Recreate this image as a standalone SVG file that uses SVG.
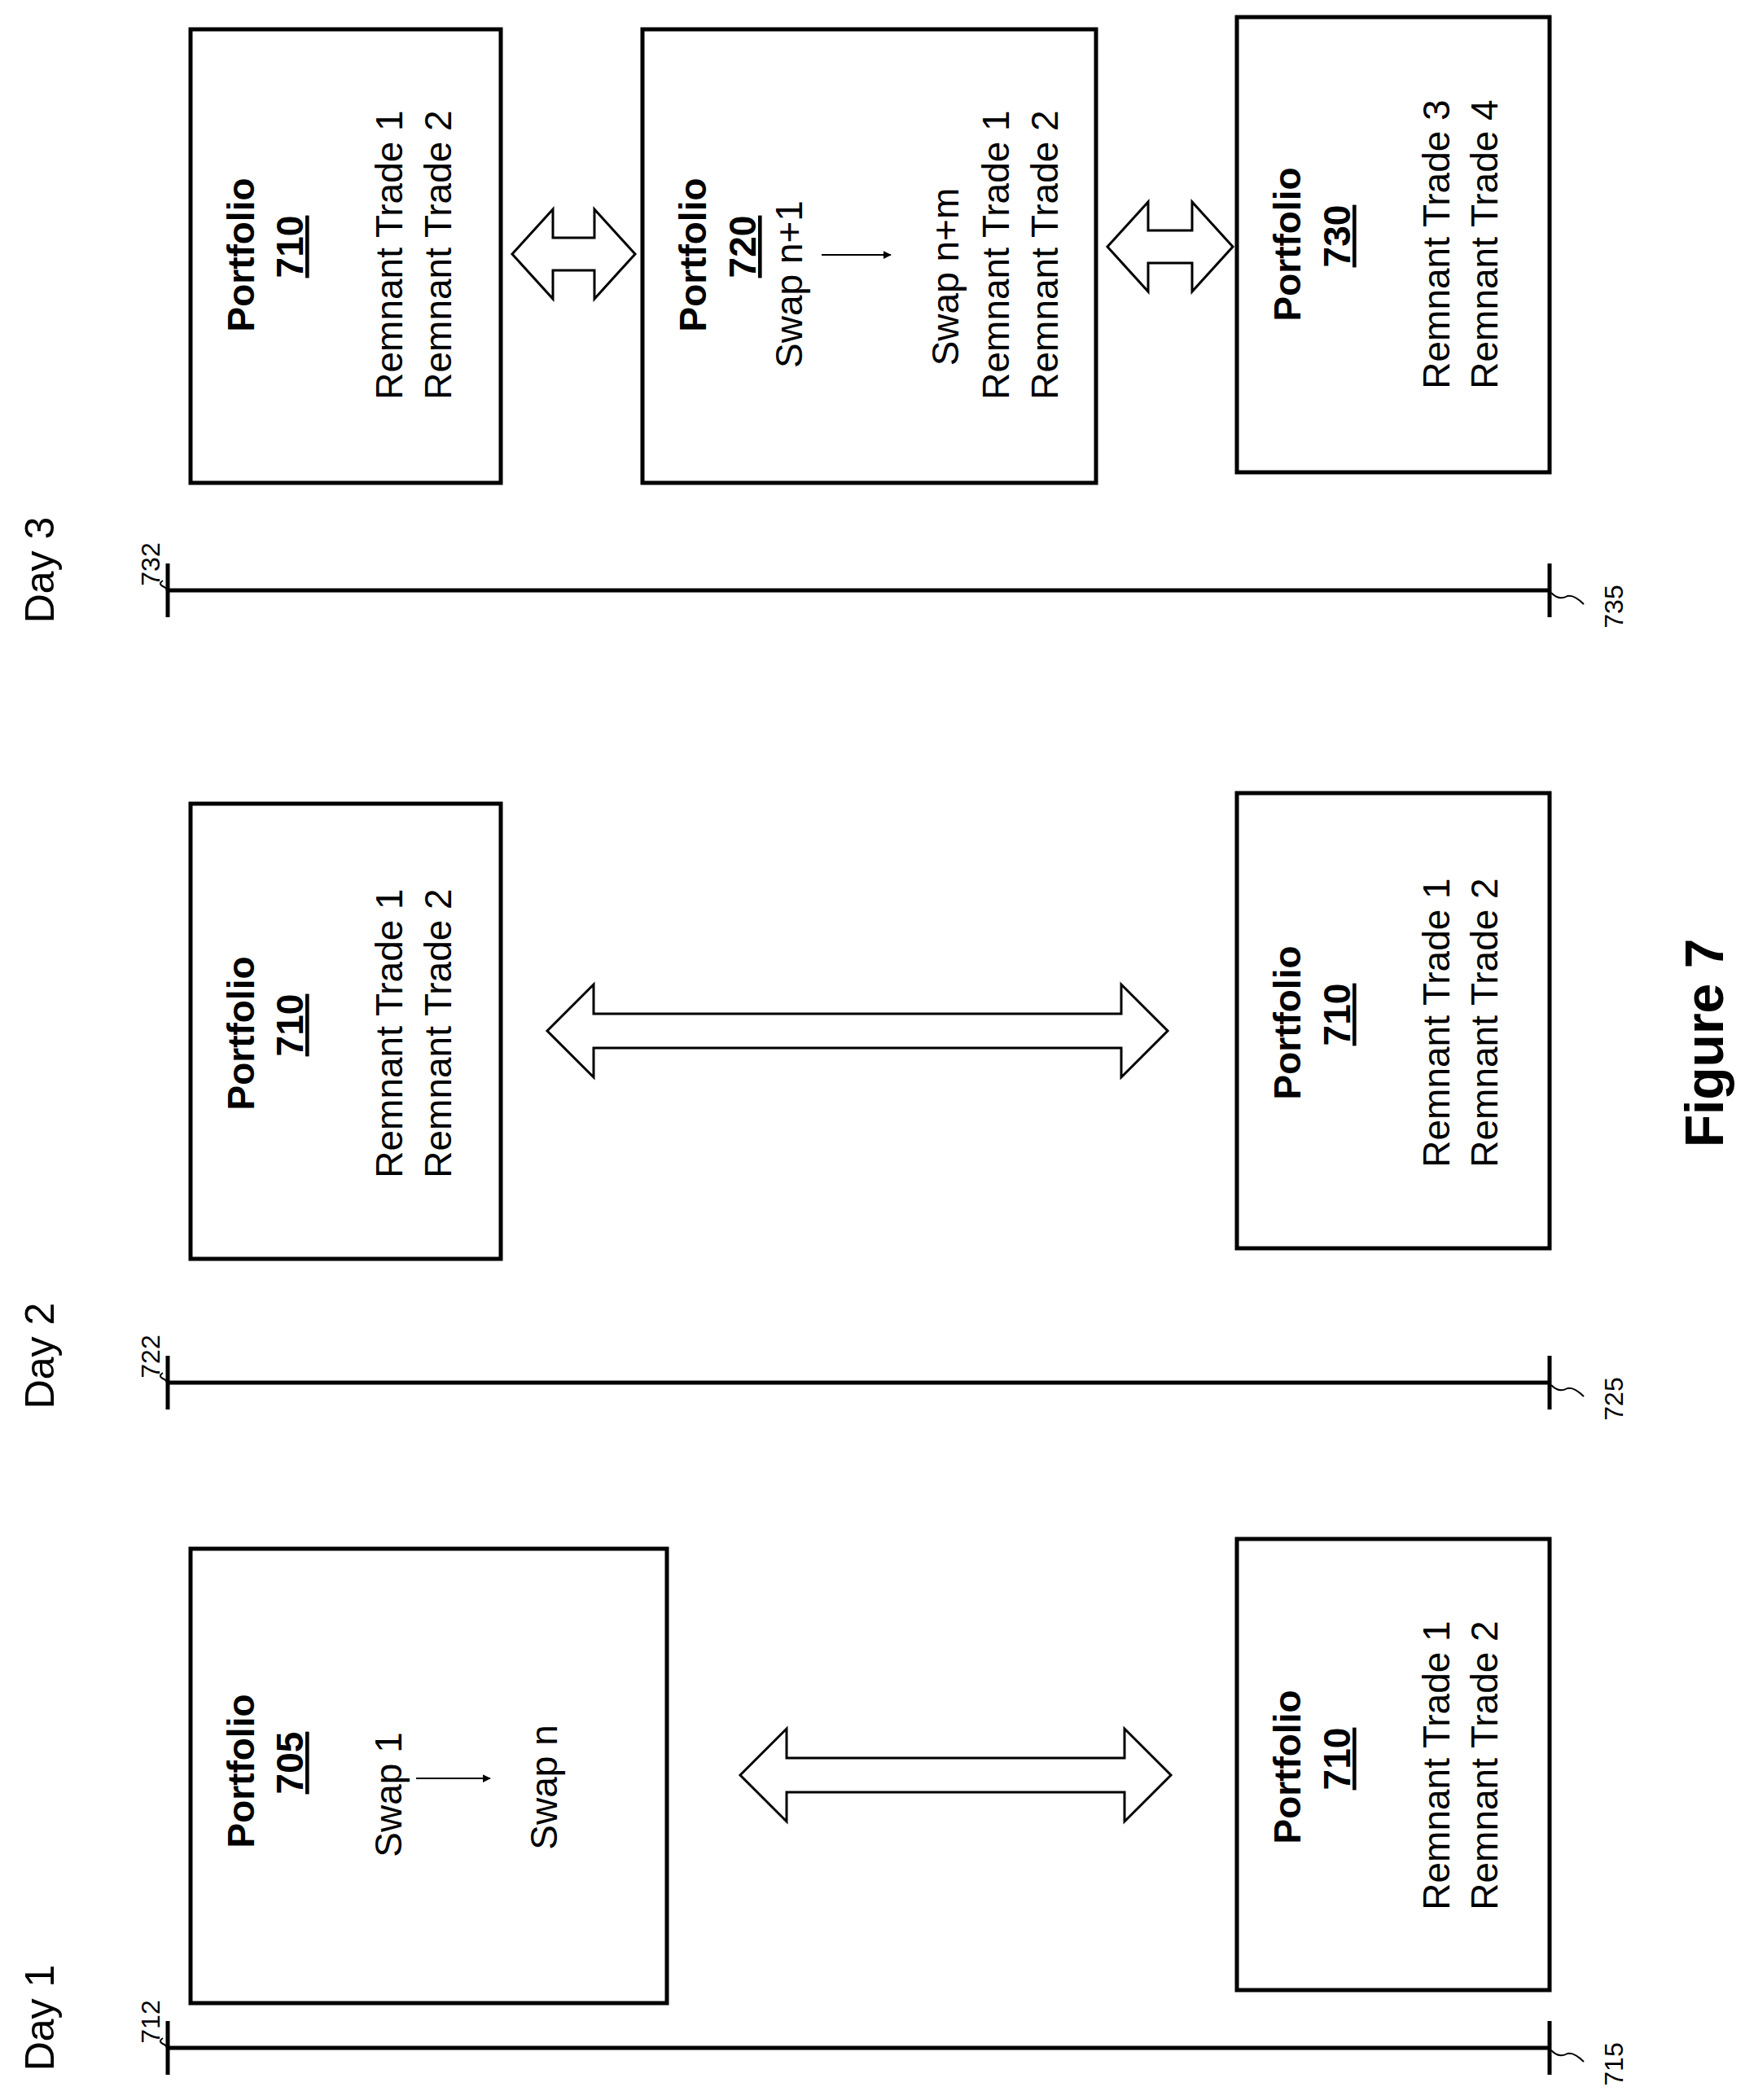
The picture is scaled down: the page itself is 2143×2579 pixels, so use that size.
<svg xmlns="http://www.w3.org/2000/svg" width="2143" height="2579" viewBox="0 0 2143 2579">
<style>
text{font-family:"Liberation Sans",Arial,sans-serif;fill:#000}
.box{fill:#fff;stroke:#000;stroke-width:5}
.t{font-size:46px;text-anchor:middle}
.b{font-size:46px;font-weight:bold;text-anchor:middle}
.u{text-decoration:underline}
.lbl{font-size:32px;text-anchor:middle}
.day{font-size:50px;text-anchor:middle}
.line{stroke:#000;stroke-width:5;fill:none}
.sq{stroke:#000;stroke-width:2;fill:none}
.da{fill:#fff;stroke:#000;stroke-width:3}
.sm{stroke:#000;stroke-width:2;fill:none}
</style>
<defs>
<marker id="ah" markerWidth="10" markerHeight="10" refX="9" refY="5" orient="auto" markerUnits="userSpaceOnUse"><path d="M0,0 L10,5 L0,10 Z" fill="#000" transform="scale(1.4) translate(-3,-1.4)"/></marker>
</defs>

<g id="timelines">
<text class="day" transform="rotate(-90 66 700)" x="66" y="700">Day 3</text>
<text class="day" transform="rotate(-90 66 1665)" x="66" y="1665">Day 2</text>
<text class="day" transform="rotate(-90 66 2478)" x="66" y="2478">Day 1</text>
<path class="line" d="M206,725 H1903 M206,692 V758 M1903,692 V758"/>
<path class="line" d="M206,1698 H1903 M206,1665 V1731 M1903,1665 V1731"/>
<path class="line" d="M206,2515 H1903 M206,2482 V2548 M1903,2482 V2548"/>
<text class="lbl" transform="rotate(-90 196 693)" x="196" y="693">732</text>
<text class="lbl" transform="rotate(-90 1993 745)" x="1993" y="745">735</text>
<text class="lbl" transform="rotate(-90 196 1666)" x="196" y="1666">722</text>
<text class="lbl" transform="rotate(-90 1993 1718)" x="1993" y="1718">725</text>
<text class="lbl" transform="rotate(-90 196 2483)" x="196" y="2483">712</text>
<text class="lbl" transform="rotate(-90 1993 2535)" x="1993" y="2535">715</text>
<path class="sq" d="M200,713 q-6,4 0,7 q6,3 4,5"/>
<path class="sq" d="M1905,728 q10,10 20,4 q8,-2 20,10"/>
<path class="sq" d="M200,1686 q-6,4 0,7 q6,3 4,5"/>
<path class="sq" d="M1905,1701 q10,10 20,4 q8,-2 20,10"/>
<path class="sq" d="M200,2503 q-6,4 0,7 q6,3 4,5"/>
<path class="sq" d="M1905,2518 q10,10 20,4 q8,-2 20,10"/>
</g>

<g id="p710-d3a">
<rect class="box" x="234" y="36" width="381" height="557"/>
<text class="b" transform="rotate(-90 312 313)" x="312" y="313">Portfolio</text>
<text class="b u" transform="rotate(-90 372 303)" x="372" y="303">710</text>
<text class="t" transform="rotate(-90 494 313)" x="494" y="313">Remnant Trade 1</text>
<text class="t" transform="rotate(-90 554 313)" x="554" y="313">Remnant Trade 2</text>
</g>
<g id="p720">
<rect class="box" x="789" y="36" width="557" height="557"/>
<text class="b" transform="rotate(-90 867 313)" x="867" y="313">Portfolio</text>
<text class="b u" transform="rotate(-90 928 303)" x="928" y="303">720</text>
<text class="t" transform="rotate(-90 985 349)" x="985" y="349">Swap n+1</text>
<text class="t" transform="rotate(-90 1177 340)" x="1177" y="340">Swap n+m</text>
<text class="t" transform="rotate(-90 1239 313)" x="1239" y="313">Remnant Trade 1</text>
<text class="t" transform="rotate(-90 1299 313)" x="1299" y="313">Remnant Trade 2</text>
</g>
<g id="p730">
<rect class="box" x="1519" y="21" width="384" height="559"/>
<text class="b" transform="rotate(-90 1597 300)" x="1597" y="300">Portfolio</text>
<text class="b u" transform="rotate(-90 1658 290)" x="1658" y="290">730</text>
<text class="t" transform="rotate(-90 1780 300)" x="1780" y="300">Remnant Trade 3</text>
<text class="t" transform="rotate(-90 1839 300)" x="1839" y="300">Remnant Trade 4</text>
</g>
<g id="p710-d2a">
<rect class="box" x="234" y="987" width="381" height="559"/>
<text class="b" transform="rotate(-90 312 1269)" x="312" y="1269">Portfolio</text>
<text class="b u" transform="rotate(-90 372 1259)" x="372" y="1259">710</text>
<text class="t" transform="rotate(-90 494 1269)" x="494" y="1269">Remnant Trade 1</text>
<text class="t" transform="rotate(-90 554 1269)" x="554" y="1269">Remnant Trade 2</text>
</g>
<g id="p710-d2b">
<rect class="box" x="1519" y="974" width="384" height="559"/>
<text class="b" transform="rotate(-90 1597 1256)" x="1597" y="1256">Portfolio</text>
<text class="b u" transform="rotate(-90 1658 1246)" x="1658" y="1246">710</text>
<text class="t" transform="rotate(-90 1780 1256)" x="1780" y="1256">Remnant Trade 1</text>
<text class="t" transform="rotate(-90 1839 1256)" x="1839" y="1256">Remnant Trade 2</text>
</g>
<g id="p705">
<rect class="box" x="234" y="1902" width="585" height="558"/>
<text class="b" transform="rotate(-90 312 2175)" x="312" y="2175">Portfolio</text>
<text class="b u" transform="rotate(-90 372 2165)" x="372" y="2165">705</text>
<text class="t" transform="rotate(-90 493 2204)" x="493" y="2204">Swap 1</text>
<text class="t" transform="rotate(-90 684 2195)" x="684" y="2195">Swap n</text>
</g>
<g id="p710-d1">
<rect class="box" x="1519" y="1890" width="384" height="554"/>
<text class="b" transform="rotate(-90 1597 2170)" x="1597" y="2170">Portfolio</text>
<text class="b u" transform="rotate(-90 1658 2160)" x="1658" y="2160">710</text>
<text class="t" transform="rotate(-90 1780 2168)" x="1780" y="2168">Remnant Trade 1</text>
<text class="t" transform="rotate(-90 1839 2168)" x="1839" y="2168">Remnant Trade 2</text>
</g>

<g id="connectors">
<path class="sm" d="M1009,313 H1094" marker-end="url(#ah)"/>
<path class="sm" d="M511,2184 H602" marker-end="url(#ah)"/>
<path class="da" d="M629,312 L679,257 V292 H730 V257 L780,312 L730,367 V332 H679 V367 Z"/>
<path class="da" d="M1360,303 L1410,248 V283 H1464 V248 L1514,303 L1464,358 V323 H1410 V358 Z"/>
<path class="da" d="M672,1266 L729,1209 V1245 H1377 V1209 L1434,1266 L1377,1323 V1287 H729 V1323 Z"/>
<path class="da" d="M909,2180 L966,2123 V2159 H1381 V2123 L1438,2180 L1381,2237 V2201 H966 V2237 Z"/>
</g>

<text x="2116" y="1281" transform="rotate(-90 2116 1281)" style="font-size:66px;font-weight:bold;text-anchor:middle">Figure 7</text>
</svg>
